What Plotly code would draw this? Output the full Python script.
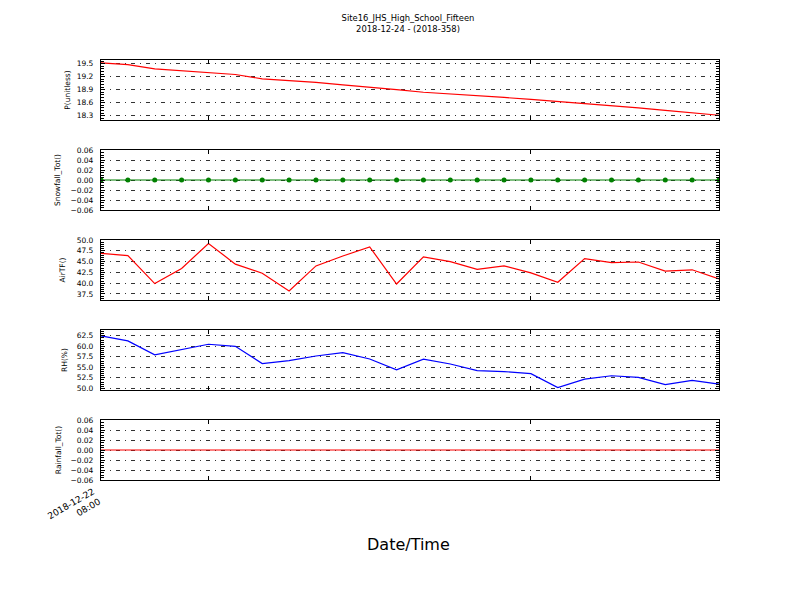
import plotly.graph_objects as go

times = [
    "2018-12-22 08:00", "2018-12-22 09:00", "2018-12-22 10:00", "2018-12-22 11:00",
    "2018-12-22 12:00", "2018-12-22 13:00", "2018-12-22 14:00", "2018-12-22 15:00",
    "2018-12-22 16:00", "2018-12-22 17:00", "2018-12-22 18:00", "2018-12-22 19:00",
    "2018-12-22 20:00", "2018-12-22 21:00", "2018-12-22 22:00", "2018-12-22 23:00",
    "2018-12-23 00:00", "2018-12-23 01:00", "2018-12-23 02:00", "2018-12-23 03:00",
    "2018-12-23 04:00", "2018-12-23 05:00", "2018-12-23 06:00", "2018-12-23 07:00",
]

p_unitless = [19.52, 19.48, 19.38, 19.34, 19.29, 19.25, 19.15, 19.11, 19.07, 19.01,
              18.96, 18.90, 18.84, 18.805, 18.77, 18.72, 18.675, 18.63, 18.57, 18.525,
              18.48, 18.42, 18.365, 18.31]
snowfall = [0.0] * 24
air_tf = [46.9, 46.4, 39.9, 43.4, 49.2, 44.4, 42.3, 38.2, 44.0, 46.3,
          48.4, 39.8, 46.1, 45.0, 43.2, 44.0, 42.4, 40.2, 45.7, 44.75,
          44.9, 42.8, 43.1, 41.0]
rh = [62.5, 61.3, 58.0, 59.3, 60.5, 60.0, 55.9, 56.6, 57.7, 58.5,
      57.0, 54.4, 56.95, 55.8, 54.2, 54.0, 53.5, 50.2, 52.2, 53.0,
      52.6, 50.9, 51.9, 51.0]
rainfall = [0.0] * 24

y_titles = ["P(unitless)", "Snowfall_Tot()", "AirTF()", "RH(%)", "Rainfall_Tot()"]
x_tickvals = ["2018-12-22 08:00", "2018-12-22 12:00", "2018-12-23 00:00"]
x_ticktext = ["2018-12-22<br>08:00", "", ""]

title_text = "Site16_JHS_High_School_Fifteen<br>2018-12-24 - (2018-358)"

FONT = "DejaVu Sans, Liberation Sans, sans-serif"
W, H = 800, 600
OFF = 8  # page body margin
LEFT, RIGHT = 101 - OFF, 719 - OFF

series = [
    dict(y=p_unitless, color="#ff0000", mode="lines"),
    dict(y=snowfall, color="#008000", mode="lines+markers"),
    dict(y=air_tf, color="#ff0000", mode="lines"),
    dict(y=rh, color="#0000ff", mode="lines"),
    dict(y=rainfall, color="#ff0000", mode="lines"),
]
y_cfg = [
    dict(range=[18.2, 19.585], tick0=18.3, dtick=0.3, fmt=".1f", minor=0.06, so=5),
    dict(range=[-0.06, 0.06], tick0=0, dtick=0.02, fmt=".2f", minor=0.005, so=8),
    dict(range=[36.1, 50.0], tick0=0, dtick=2.5, fmt=".1f", minor=0.5, so=10),
    dict(range=[49.6, 63.9], tick0=0, dtick=2.5, fmt=".1f", minor=0.5, so=8),
    dict(range=[-0.06, 0.06], tick0=0, dtick=0.02, fmt=".2f", minor=0.005, so=7),
]

fig = go.Figure()
layout = dict(
    width=W, height=H,
    margin=dict(l=0, r=0, t=0, b=0),
    paper_bgcolor="white", plot_bgcolor="white",
    showlegend=False,
    font=dict(family=FONT, size=7.5, color="black"),
)

for i, s in enumerate(series):
    n = "" if i == 0 else str(i + 1)
    fig.add_trace(go.Scatter(
        x=times, y=s["y"], mode=s["mode"], xaxis="x" + n, yaxis="y" + n,
        line=dict(color=s["color"], width=1.2),
        marker=dict(color=s["color"], size=5),
    ))
    top = 60 + 90 * i - OFF
    bot = 120 + 90 * i - OFF
    c = y_cfg[i]
    layout["xaxis" + n] = dict(
        domain=[LEFT / W, RIGHT / W], anchor="y" + n,
        range=[times[0], times[-1]], type="date",
        tickmode="array", tickvals=x_tickvals,
        ticktext=x_ticktext if i == 4 else ["", "", ""],
        showticklabels=(i == 4), tickangle=-30,
        ticks="inside", ticklen=4, tickcolor="black",
        showline=True, linecolor="black", linewidth=1.2, mirror="ticks",
        showgrid=False, zeroline=False,
        tickfont=dict(size=9), ticklabelshift=-8, ticklabelstandoff=2,
        automargin=False,
        matches=None if i == 0 else "x",
    )
    layout["yaxis" + n] = dict(
        domain=[1 - bot / H, 1 - top / H], anchor="x" + n,
        range=c["range"], tick0=c["tick0"], dtick=c["dtick"], tickformat=c["fmt"],
        ticks="inside", ticklen=4, tickcolor="black",
        minor=dict(ticks="inside", ticklen=2.5, dtick=c["minor"], tick0=c["tick0"],
                   tickcolor="black", showgrid=False),
        showline=True, linecolor="black", linewidth=1.2, mirror="ticks",
        showgrid=True, gridcolor="#333333", gridwidth=0.9,
        griddash="4px,5px,1px,5px",
        zeroline=False, tickfont=dict(size=7.5), ticklabelstandoff=5,
        title=dict(text=y_titles[i], font=dict(size=7.5), standoff=c["so"]),
        automargin=False,
    )

layout["title"] = dict(text=title_text, x=0.5, xanchor="center", y=1 - (21 - OFF) / H,
                       yanchor="middle", font=dict(size=8.4))
layout["annotations"] = [dict(text="Date/Time", x=0.5, y=1 - (544 - OFF) / H, xref="paper",
                              yref="paper", showarrow=False, xanchor="center",
                              yanchor="middle", font=dict(size=16))]
fig.update_layout(**layout)
fig.write_html("out.html")
